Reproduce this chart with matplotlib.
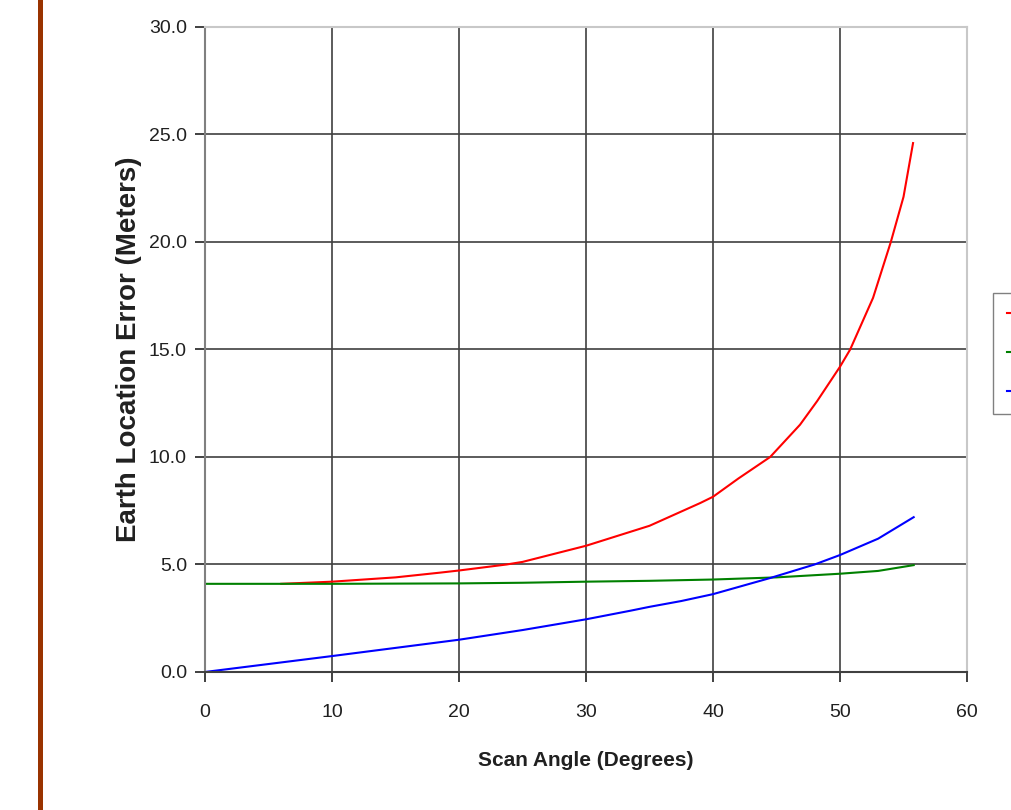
import matplotlib
matplotlib.use('Agg')
import matplotlib.pyplot as plt
from matplotlib.patches import Rectangle
from matplotlib.lines import Line2D

plt.rcParams['font.family'] = ['Liberation Sans', 'DejaVu Sans']

# Curvas
red_x = [6, 10, 15, 18.5, 20, 23.75, 25, 30, 35, 39, 40, 42, 44.5, 46.85, 48.2, 50, 50.8, 52.6, 54, 55, 55.75]
red_y = [4.1, 4.2, 4.4, 4.62, 4.72, 5.0, 5.12, 5.87, 6.8, 7.86, 8.15, 9.0, 10.0, 11.5, 12.6, 14.2, 15.0, 17.4, 20.0, 22.1, 24.6]

green_x = [0, 10, 20, 25, 30, 35, 40, 45, 50, 53, 55.8]
green_y = [4.1, 4.1, 4.12, 4.15, 4.2, 4.24, 4.3, 4.4, 4.57, 4.7, 4.97]

blue_x = [0, 5, 10, 15, 20, 25, 30, 33.5, 35, 37.5, 40, 44.5, 48, 50, 53, 55.8]
blue_y = [0, 0.37, 0.74, 1.12, 1.5, 1.95, 2.45, 2.85, 3.03, 3.3, 3.62, 4.37, 5.0, 5.44, 6.2, 7.2]

yticks = [0, 5, 10, 15, 20, 25, 30]
xticks = [0, 10, 20, 30, 40, 50, 60]

fig = plt.figure(figsize=(10.11, 8.10), dpi=100)
ax = fig.add_axes([0.2028, 0.1704, 0.9565 - 0.2028, 0.9667 - 0.1704])

ax.plot(red_x, red_y, color='#ff0000', lw=1.5)
ax.plot(green_x, green_y, color='#008000', lw=1.5)
ax.plot(blue_x, blue_y, color='#0000ff', lw=1.5)

ax.set_xlim(0, 60)
ax.set_ylim(0, 30)
ax.set_xticks(xticks)
ax.set_yticks(yticks)
ax.set_yticklabels([f'{v:.1f}' for v in yticks])

ax.grid(True, color='#404040', lw=1.2)
ax.set_axisbelow(True)

ax.spines['top'].set_color('#c8c8c8')
ax.spines['right'].set_color('#c8c8c8')
ax.spines['left'].set_color('#808080')
ax.spines['bottom'].set_color('#404040')
for s in ax.spines.values():
    s.set_linewidth(1.5)

ax.tick_params(axis='both', labelsize=14, colors='#202020', length=7, width=1.2)
ax.tick_params(axis='x', pad=16)
ax.tick_params(axis='y', pad=6)

ax.set_xlabel('Scan Angle (Degrees)', fontsize=15, fontweight='bold', labelpad=22, color='#202020')
ax.set_ylabel('Earth Location Error (Meters)', fontsize=20, fontweight='bold',
              labelpad=5, color='#202020')

# Leyenda recortada en el borde derecho (el texto queda fuera de la imagen)
handles = [Line2D([], [], color=c, lw=1.5) for c in ['#ff0000', '#008000', '#0000ff']]
fig.legend(handles, [' ', ' ', ' '], loc='upper left',
           bbox_to_anchor=(993 / 1011, (810 - 293) / 810), fontsize=13, frameon=True,
           fancybox=False, edgecolor='#606060', handlelength=2.0, labelspacing=1.2,
           borderpad=0.75, handletextpad=0.3, borderaxespad=0)

# Barra marron a la izquierda
fig.add_artist(Rectangle((38 / 1011, 0), 5 / 1011, 1, transform=fig.transFigure,
                         color='#993300', lw=0))

fig.savefig('out.png', dpi=100)
